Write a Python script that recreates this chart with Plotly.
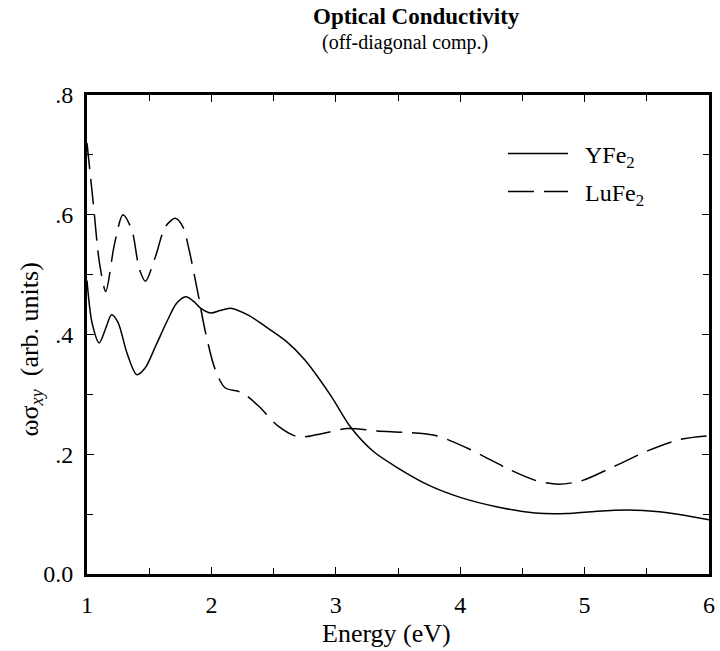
import plotly.graph_objects as go

# YFe2 (solid)
y_energy = [1.0, 1.04, 1.098, 1.15, 1.197, 1.25, 1.32, 1.40, 1.47, 1.55, 1.65, 1.72, 1.794, 1.86, 1.913, 1.993, 2.07, 2.152,
            2.3, 2.43, 2.6, 2.75, 2.96, 3.12, 3.3, 3.5, 3.75, 4.0, 4.3, 4.6, 4.85, 5.1, 5.35, 5.6, 5.8, 6.0]
y_sigma = [0.49, 0.42, 0.386, 0.41, 0.433, 0.42, 0.37, 0.333, 0.345, 0.38, 0.425, 0.452, 0.463, 0.455, 0.444, 0.436, 0.44, 0.444,
           0.432, 0.414, 0.389, 0.358, 0.298, 0.245, 0.205, 0.177, 0.148, 0.128, 0.112, 0.102, 0.101, 0.105, 0.107, 0.104, 0.098, 0.0905]

# LuFe2 (dashed)
l_energy = [1.0, 1.05, 1.1, 1.151, 1.22, 1.289, 1.36, 1.42, 1.47, 1.55, 1.63, 1.709, 1.77, 1.82, 1.886, 1.953, 2.03,
            2.11, 2.245, 2.377, 2.537, 2.696, 2.855, 3.094, 3.33, 3.6, 3.81, 4.08, 4.39, 4.61, 4.79, 4.98,
            5.24, 5.51, 5.77, 6.0]
l_sigma = [0.72, 0.62, 0.52, 0.472, 0.55, 0.60, 0.575, 0.51, 0.489, 0.53, 0.58, 0.594, 0.58, 0.542, 0.475, 0.403, 0.342,
           0.311, 0.303, 0.281, 0.247, 0.229, 0.233, 0.243, 0.239, 0.236, 0.231, 0.208, 0.175, 0.156, 0.150, 0.156,
           0.18, 0.206, 0.225, 0.231]

x_ticks = [1, 2, 3, 4, 5, 6]
y_ticks = [0.0, 0.2, 0.4, 0.6, 0.8]
y_ticktext = ["0.0", ".2", ".4", ".6", ".8"]

FONT = "Liberation Serif"
TOP, BOTTOM, LEFT, RIGHT = 95, 77, 87, 5
PLOT_H = 651 - TOP - BOTTOM
PLOT_W = 720 - LEFT - RIGHT

fig = go.Figure()
fig.add_trace(go.Scatter(x=y_energy, y=y_sigma, mode="lines", name="\u00a0\u00a0YFe<sub>2</sub>",
                         line=dict(color="black", width=1.5, shape="spline", smoothing=0.8),
                         legend="legend"))
fig.add_trace(go.Scatter(x=l_energy, y=l_sigma, mode="lines", name="\u00a0\u00a0LuFe<sub>2</sub>",
                         line=dict(color="black", width=1.5, shape="spline", smoothing=0.8, dash="26px,10px"),
                         legend="legend2"))

axis_common = dict(showline=True, mirror="ticks", linecolor="black", linewidth=2.8,
                   ticks="inside", ticklen=7, tickcolor="black", tickwidth=1,
                   showgrid=False, zeroline=False,
                   tickfont=dict(family=FONT, size=24, color="black"))

fig.update_xaxes(range=[1, 6], tickvals=x_ticks, ticklabelstandoff=7,
                 minor=dict(dtick=0.5, ticks="inside", ticklen=6, tickcolor="black", tickwidth=1),
                 **axis_common)
fig.update_yaxes(range=[0, 0.8], tickvals=y_ticks, ticktext=y_ticktext, ticklabelstandoff=6,
                 minor=dict(dtick=0.1, ticks="inside", ticklen=6, tickcolor="black", tickwidth=1),
                 **axis_common)

legend_common = dict(xanchor="left", yanchor="middle", bgcolor="rgba(0,0,0,0)",
                     font=dict(family=FONT, size=24, color="black"), itemwidth=60)

fig.update_layout(
    width=720, height=651,
    margin=dict(l=LEFT, r=RIGHT, t=TOP, b=BOTTOM),
    paper_bgcolor="white", plot_bgcolor="white",
    font=dict(family=FONT, color="black"),
    showlegend=True,
    legend=dict(x=(507 - LEFT) / PLOT_W, y=1 - (154 - TOP) / PLOT_H, **legend_common),
    legend2=dict(x=(507 - LEFT) / PLOT_W, y=1 - (192 - TOP) / PLOT_H, **legend_common),
    annotations=[
        dict(text="<b>Optical Conductivity</b>", xref="paper", yref="paper", x=(420 - LEFT) / PLOT_W,
             y=1 + (TOP - 17) / PLOT_H,
             showarrow=False, xanchor="center", yanchor="middle", font=dict(family=FONT, size=23, color="black")),
        dict(text="(off-diagonal comp.)", xref="paper", yref="paper", x=(408 - LEFT) / PLOT_W,
             y=1 + (TOP - 42) / PLOT_H,
             showarrow=False, xanchor="center", yanchor="middle", font=dict(family=FONT, size=20, color="black")),
        dict(text="Energy (eV)", xref="paper", yref="paper", x=(389 - LEFT) / PLOT_W,
             y=-(633 - (651 - BOTTOM)) / PLOT_H,
             showarrow=False, xanchor="center", yanchor="middle", font=dict(family=FONT, size=26, color="black")),
        dict(text="ωσ<sub><i>xy</i></sub>  (arb. units)", xref="paper", yref="paper", x=(30 - LEFT) / PLOT_W,
             y=1 - (350 - TOP) / PLOT_H, textangle=-90,
             showarrow=False, xanchor="center", yanchor="middle", font=dict(family=FONT, size=26, color="black")),
    ],
)

fig.write_html("out.html", config={"displayModeBar": False},
               post_script="document.body.style.margin='0px';")
